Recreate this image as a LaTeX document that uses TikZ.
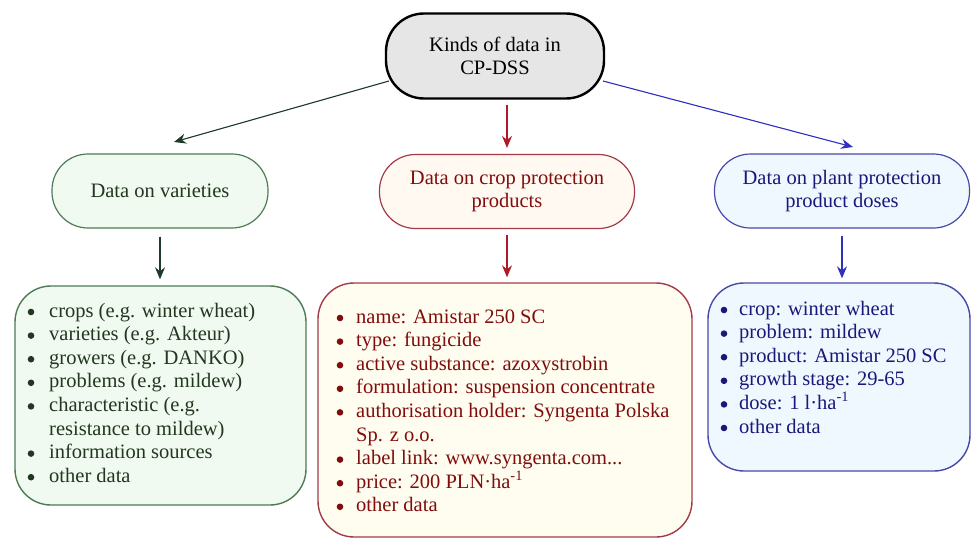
\documentclass[tikz,border=0pt]{standalone}
\usepackage{fontspec}
\setmainfont{Liberation Serif}
\usetikzlibrary{arrows.meta}
\definecolor{topfill}{HTML}{E6E6E6}
\definecolor{gfill}{HTML}{F0FAF0}
\definecolor{gdraw}{HTML}{4E7A55}
\definecolor{gtext}{HTML}{223620}
\definecolor{garrow}{HTML}{1E3A2A}
\definecolor{rfill}{HTML}{FFFDF0}
\definecolor{rnfill}{HTML}{FFF9F2}
\definecolor{rdraw}{HTML}{A33A48}
\definecolor{rtext}{HTML}{800C0C}
\definecolor{rarrow}{HTML}{B0182A}
\definecolor{bfill}{HTML}{EFF8FF}
\definecolor{bdraw}{HTML}{4848A8}
\definecolor{btext}{HTML}{18187A}
\definecolor{barrow}{HTML}{3030C0}
\newlength{\bw}
\newcommand{\bcol}{black}
\newcommand{\bdot}{\tikz[baseline=-5pt]\fill[\bcol] (0,0) circle (3.3pt);}
\newcommand{\bitem}[1]{\par\noindent\hangindent=\bw\hangafter=1\makebox[\bw][l]{\hspace{0.5pt}\bdot}#1}
\newcommand{\blist}[3]{\setlength{\bw}{#1}\renewcommand{\bcol}{#2}\parbox[t]{400pt}{\raggedright\fontsize{20.5}{23.6}\selectfont #3}}
\begin{document}
\begin{tikzpicture}[x=1pt,y=-1pt,
  font=\fontsize{20.5}{23.6}\selectfont,
  topbox/.style={draw=black, line width=2.4pt, fill=topfill, rounded corners=38pt,
    minimum width=218pt, minimum height=85pt, align=center, inner sep=0pt},
  headbox/.style={line width=1.2pt, rounded corners=36pt, minimum height=74pt,
    align=center, inner sep=0pt},
  listbox/.style={line width=1.4pt, rounded corners=36pt, inner sep=0pt},
  listtext/.style={anchor=base west, inner sep=0pt},
  arr/.style={line width=1.1pt, -{Stealth[length=12pt,width=10pt,inset=4pt]}}]
\useasboundingbox (0,0) rectangle (974,538);

% top node
\node[topbox] (top) at (495,56) {Kinds of data in\\CP-DSS};

% heading nodes
\node[headbox, draw=gdraw, fill=gfill, text=gtext, minimum width=216pt] (gnode) at (160,191) {Data on varieties};
\node[headbox, draw=rdraw, fill=rnfill, text=rtext, minimum width=255pt] (rnode) at (507,191.5) {Data on crop protection\\products};
\node[headbox, draw=bdraw, fill=bfill, text=btext, minimum width=255pt] (bnode) at (842,191) {Data on plant protection\\product doses};

% list boxes
\node[listbox, draw=gdraw, fill=gfill, minimum width=291pt, minimum height=219pt] (gbox) at (160.5,395.5) {};
\node[listbox, draw=rdraw, fill=rfill, minimum width=374pt, minimum height=254pt] (rbox) at (505,410) {};
\node[listbox, draw=bdraw, fill=bfill, minimum width=262pt, minimum height=188pt] (bbox) at (839,377) {};

% list texts
\node[listtext, text=gtext] (glist) at (27,317) {\blist{22pt}{gtext}{%
\bitem{crops (e.g. winter wheat)}
\bitem{varieties (e.g. Akteur)}
\bitem{growers (e.g. DANKO)}
\bitem{problems (e.g. mildew)}
\bitem{characteristic (e.g.\newline resistance to mildew)}
\bitem{information sources}
\bitem{other data}}};

\node[listtext, text=rtext] (rlist) at (336,323) {\blist{20pt}{rtext}{%
\bitem{name: Amistar 250 SC}
\bitem{type: fungicide}
\bitem{active substance: azoxystrobin}
\bitem{formulation: suspension concentrate}
\bitem{authorisation holder: Syngenta Polska\newline Sp. z o.o.}
\bitem{label link: www.syngenta.com...}
\bitem{price: 200 PLN·ha\textsuperscript{-1}}
\bitem{other data}}};

\node[listtext, text=btext] (blist) at (720,315) {\blist{19pt}{btext}{%
\bitem{crop: winter wheat}
\bitem{problem: mildew}
\bitem{product: Amistar 250 SC}
\bitem{growth stage: 29-65}
\bitem{dose: 1 l·ha\textsuperscript{-1}}
\bitem{other data}}};

% arrow end points
\coordinate (gs) at (389,81);
\coordinate (ge) at (174,142);
\coordinate (bs) at (603,81);
\coordinate (be) at (853,147);

% connectors
\draw[arr, draw=garrow, fill=garrow] (gs) -- (ge);
\draw[arr, draw=rarrow, fill=rarrow] (rnode.north |- top.south) -- (rnode.north) [shorten <=5pt, shorten >=6pt];
\draw[arr, draw=barrow, fill=barrow] (bs) -- (be);

\draw[arr, draw=garrow, fill=garrow, shorten <=8pt, shorten >=6pt] (gnode.south) -- (gnode.south |- gbox.north);
\draw[arr, draw=rarrow, fill=rarrow, shorten <=6pt, shorten >=5pt] (rnode.south) -- (rnode.south |- rbox.north);
\draw[arr, draw=barrow, fill=barrow, shorten <=7pt, shorten >=4pt] (bnode.south) -- (bnode.south |- bbox.north);
\end{tikzpicture}
\end{document}
